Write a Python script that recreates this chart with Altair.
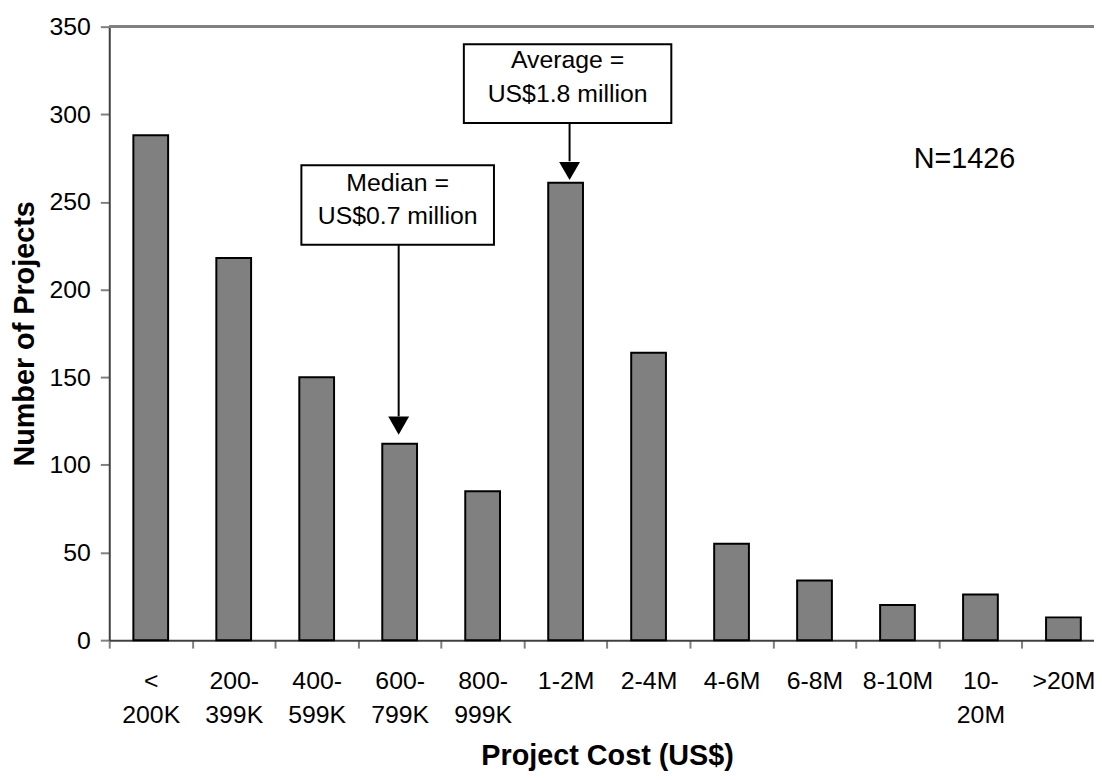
import altair as alt
import pandas as pd

# ---- data -------------------------------------------------------------
categories = ["<|200K", "200-|399K", "400-|599K", "600-|799K", "800-|999K",
              "1-2M", "2-4M", "4-6M", "6-8M", "8-10M", "10-|20M", ">20M"]
counts = [288, 218, 150, 112, 85, 261, 164, 55, 34, 20, 26, 13]

ann_cat = ["600-|799K", "1-2M"]
ann_text = ["Median =\nUS$0.7 million", "Average =\nUS$1.8 million"]
ann_box_top = [271.0, 340.0]
ann_box_bottom = [225.6, 295.0]
ann_text_y = [261.0, 330.7]
ann_arrow_end = [127.7, 273.2]
ann_head_y = [122.4, 267.7]

n_label = "N=1426"
n_label_cat = "10-|20M"
n_label_y = 274.7

y_ticks = [0, 50, 100, 150, 200, 250, 300, 350]

FONT = "Liberation Sans"

df = pd.DataFrame({"cat": categories, "v": counts})

xscale = alt.Scale(domain=categories, paddingInner=0, paddingOuter=0)
xaxis = alt.Axis(
    title="Project Cost (US$)", titleFontSize=29, titleFontWeight="bold", titleFont=FONT,
    titleColor="black", titlePadding=14,
    labelExpr="split(datum.label, '|')", labelFontSize=25, labelFont=FONT, labelColor="black",
    labelLineHeight=34, labelAngle=0, labelPadding=21,
    tickBand="extent", tickSize=8, tickColor="#808080", tickWidth=2,
    domainColor="#404040", domainWidth=2, grid=False,
)
yscale = alt.Scale(domain=[0, 350], nice=False, zero=True)
yaxis = alt.Axis(
    title="Number of Projects", titleFontSize=29, titleFontWeight="bold", titleFont=FONT,
    titleColor="black", titlePadding=10,
    values=y_ticks, labelFontSize=25, labelFont=FONT, labelColor="black", labelPadding=10,
    tickSize=9, tickColor="#808080", tickWidth=2,
    domainColor="#404040", domainWidth=2, grid=False,
)

def X():
    return alt.X("cat:N", scale=xscale, sort=categories, axis=xaxis)

bars = alt.Chart(df).mark_bar(width=35, fill="#808080", stroke="black", strokeWidth=2).encode(
    x=X(),
    y=alt.Y("v:Q", scale=yscale, axis=yaxis),
)

top_border = alt.Chart(df).mark_rule(color="#808080", strokeWidth=2).encode(
    y=alt.datum(350)
)

layers = [bars, top_border]

box_widths = [194, 209]
box_dx = [-2, 2]
arrow_dx = [-1, 4]
for i in range(len(ann_cat)):
    a = pd.DataFrame({
        "cat": [ann_cat[i]], "top": [ann_box_top[i]], "bottom": [ann_box_bottom[i]],
        "ty": [ann_text_y[i]], "aend": [ann_arrow_end[i]], "hy": [ann_head_y[i]],
        "txt": [ann_text[i]],
    })
    base = alt.Chart(a)
    box = base.mark_bar(width=box_widths[i], fill="white", stroke="black", strokeWidth=2,
                        xOffset=box_dx[i]).encode(
        x=X(), y=alt.Y("top:Q", scale=yscale, axis=yaxis), y2="bottom:Q")
    txt = base.mark_text(lineBreak="\n", fontSize=25, font=FONT, color="black",
                         lineHeight=34, baseline="middle", align="center", dx=box_dx[i]).encode(
        x=X(), y=alt.Y("ty:Q", scale=yscale, axis=yaxis), text="txt:N")
    arrow = base.mark_rule(color="black", strokeWidth=2, xOffset=arrow_dx[i]).encode(
        x=X(), y=alt.Y("bottom:Q", scale=yscale, axis=yaxis), y2="aend:Q")
    head = base.mark_point(shape="triangle-down", filled=True, size=441, color="black",
                           opacity=1, xOffset=arrow_dx[i]).encode(
        x=X(), y=alt.Y("hy:Q", scale=yscale, axis=yaxis))
    layers += [box, txt, arrow, head]

ndf = pd.DataFrame({"cat": [n_label_cat], "ny": [n_label_y], "t": [n_label]})
ntext = alt.Chart(ndf).mark_text(fontSize=29, font=FONT, color="black", baseline="middle",
                                 align="center", dx=-16).encode(
    x=X(), y=alt.Y("ny:Q", scale=yscale, axis=yaxis), text="t:N")
layers.append(ntext)

chart = alt.layer(*layers).properties(
    width=1003, height=618,
    autosize=alt.AutoSizeParams(type="none"),
    padding={"left": 102, "top": 16, "right": -11, "bottom": 130},
    background="white",
).configure_view(stroke=None)

chart.save("out.html", embed_options={"renderer": "svg", "actions": False})
